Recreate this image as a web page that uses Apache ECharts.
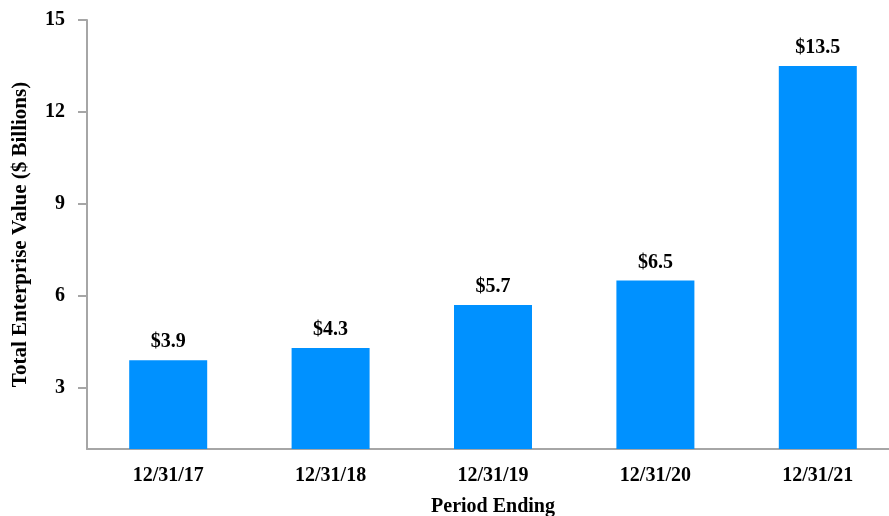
<!DOCTYPE html>
<html>
<head>
<meta charset="utf-8">
<script src="https://cdn.jsdelivr.net/npm/echarts@6/dist/echarts.min.js"></script>
<style>
  html, body { margin: 0; padding: 0; background: #fff; }
  #chart { width: 889px; height: 516px; }
</style>
</head>
<body>
<div id="chart"></div>
<script>
  // data
  const periods = ['12/31/17', '12/31/18', '12/31/19', '12/31/20', '12/31/21']
  const values = [3.9, 4.3, 5.7, 6.5, 13.5]
  const yTicks = [3, 6, 9, 12, 15]

  const font = '"Liberation Serif", "Times New Roman", serif'
  const axisGrey = '#a6a6a6'

  const chart = echarts.init(document.getElementById('chart'))
  chart.setOption({
    animation: false,
    textStyle: {fontFamily: font},
    grid: {left: 87, right: -10, top: 20, bottom: 67, containLabel: false, outerBoundsMode: 'none'},
    xAxis: {
      type: 'category',
      data: periods,
      name: 'Period Ending',
      nameLocation: 'middle',
      nameGap: 48,
      nameTextStyle: {fontFamily: font, fontWeight: 'bold', fontSize: 20, color: '#000'},
      axisLine: {lineStyle: {color: axisGrey, width: 2}},
      axisTick: {show: false},
      axisLabel: {margin: 17, fontFamily: font, fontWeight: 'bold', fontSize: 20, color: '#000'}
    },
    yAxis: {
      type: 'value',
      min: 1,
      max: 15,
      name: 'Total Enterprise Value ($ Billions)',
      nameLocation: 'middle',
      nameGap: 56,
      nameTextStyle: {fontFamily: font, fontWeight: 'bold', fontSize: 21, color: '#000'},
      axisLine: {show: true, lineStyle: {color: axisGrey, width: 2}},
      axisTick: {show: true, length: 9, customValues: yTicks, lineStyle: {color: axisGrey, width: 2}},
      axisLabel: {margin: 22, customValues: yTicks, fontFamily: font, fontWeight: 'bold', fontSize: 20, color: '#000'},
      splitLine: {show: false}
    },
    series: [{
      type: 'bar',
      data: values,
      barWidth: 78,
      itemStyle: {color: '#0091ff'},
      label: {
        show: true,
        position: 'top',
        distance: 8,
        formatter: p => '$' + p.value.toFixed(1),
        fontFamily: font,
        fontWeight: 'bold',
        fontSize: 20,
        color: '#000'
      }
    }]
  })
</script>
</body>
</html>
